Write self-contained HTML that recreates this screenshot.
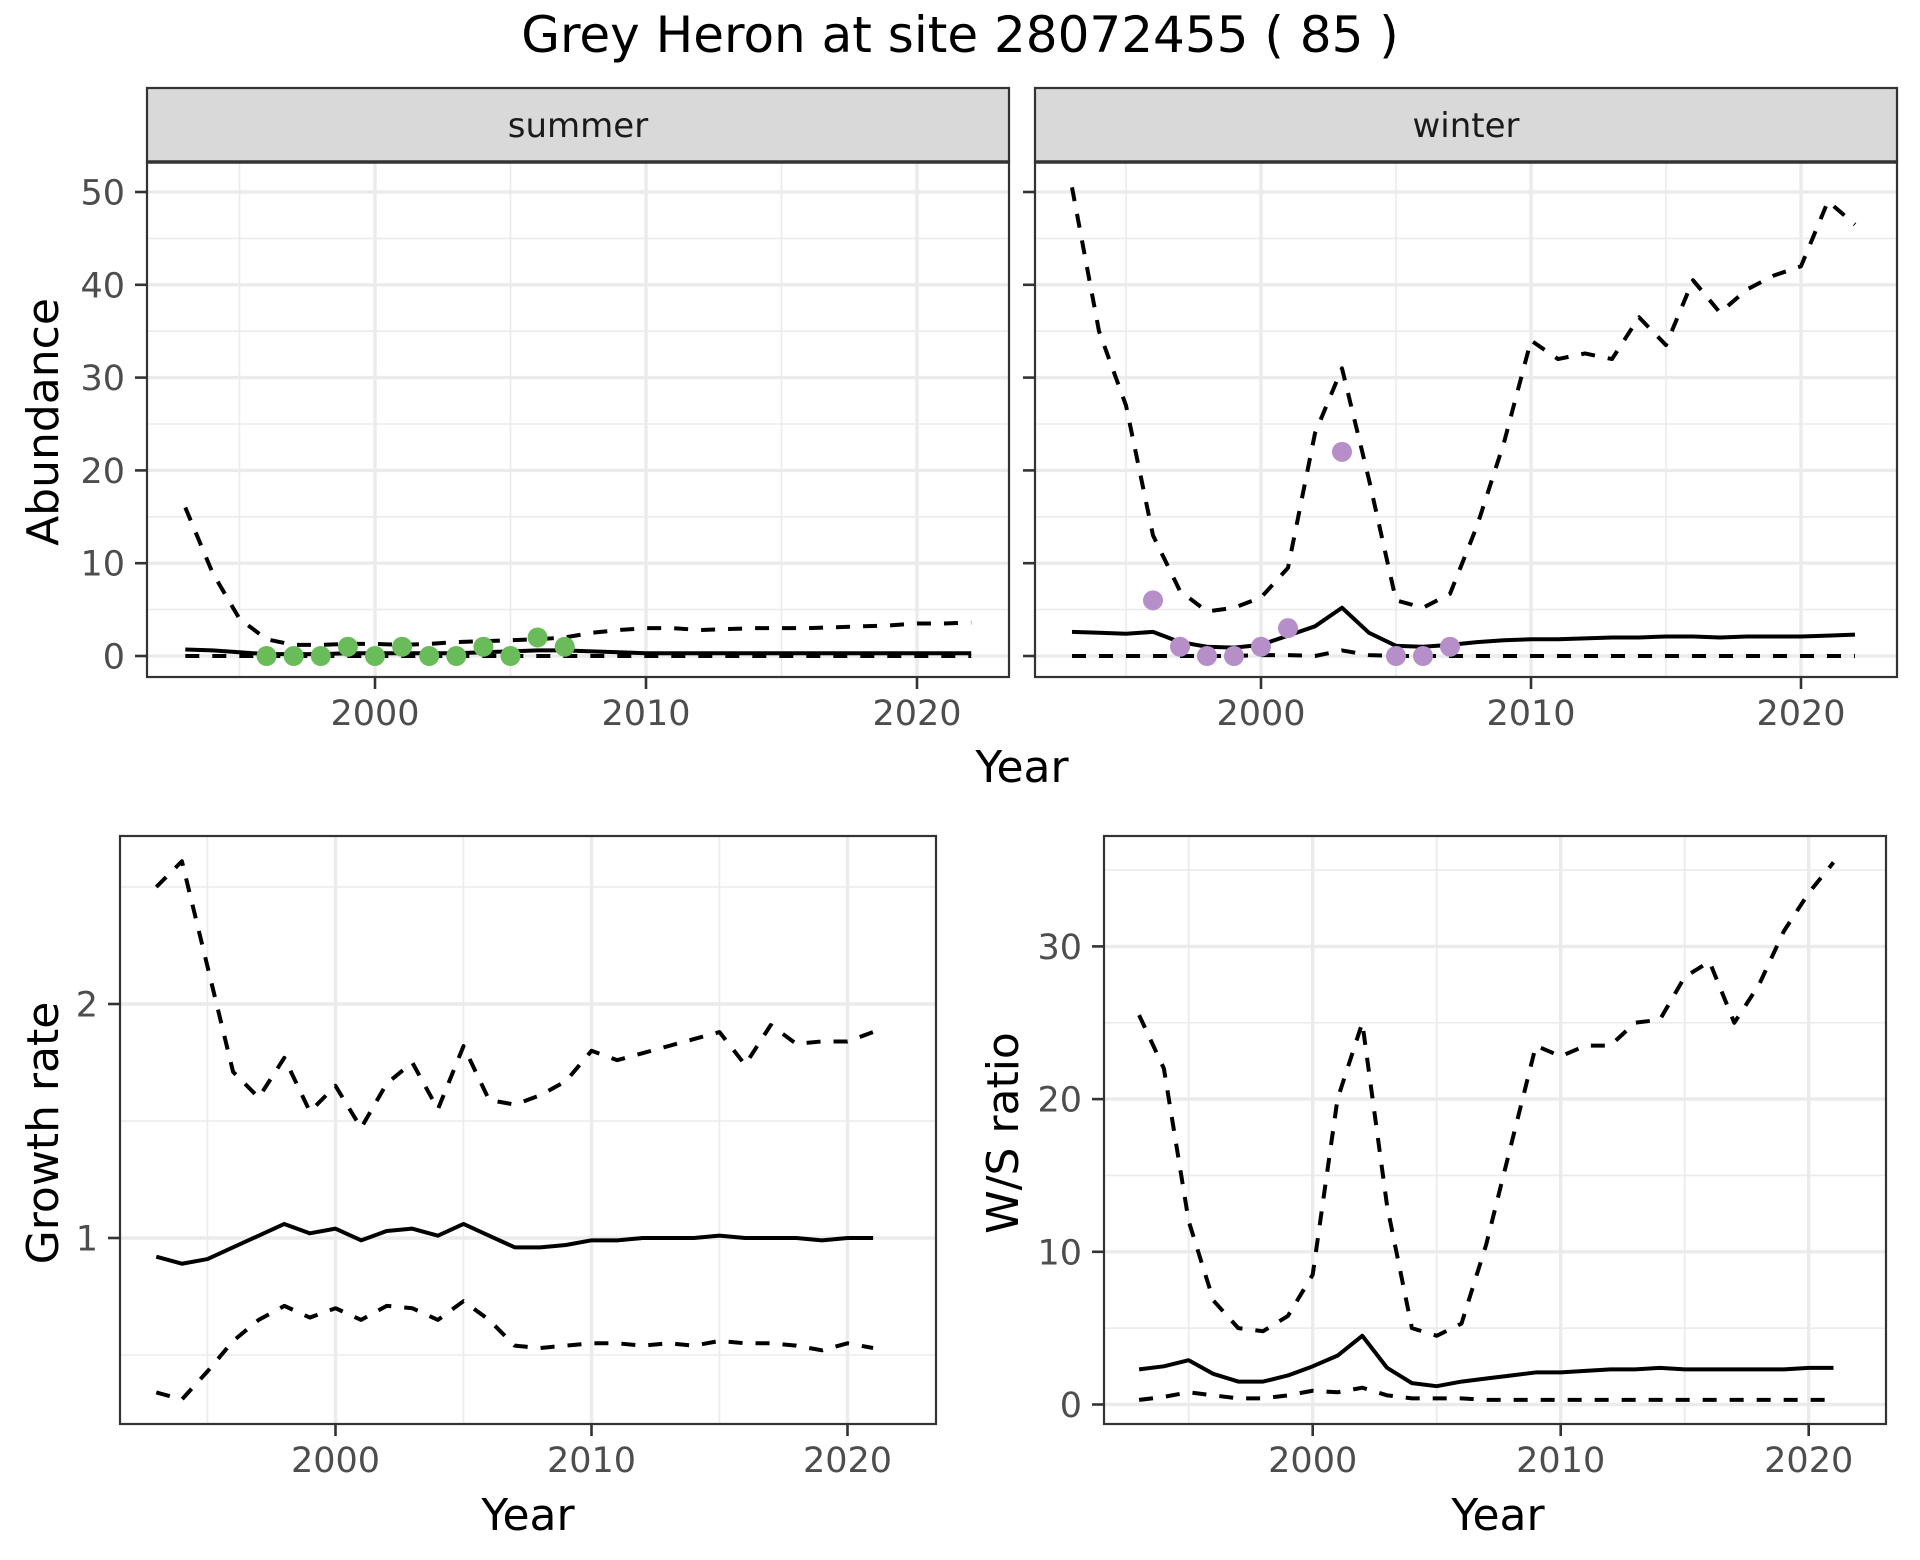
<!DOCTYPE html>
<html><head><meta charset="utf-8"><style>
body{margin:0;background:#fff}
svg{display:block;font-family:"DejaVu Sans","Liberation Sans",sans-serif}
</style></head><body>
<svg id="chart" width="1920" height="1560" viewBox="0 0 1920 1560" xmlns="http://www.w3.org/2000/svg">
<rect width="1920" height="1560" fill="#fff"/>
<text x="960" y="52" text-anchor="middle" font-size="50" fill="#000">Grey Heron at site 28072455 ( 85 )</text>
</svg>
<script>
const yearsAbund = [1993,1994,1995,1996,1997,1998,1999,2000,2001,2002,2003,2004,2005,2006,2007,2008,2009,2010,2011,2012,2013,2014,2015,2016,2017,2018,2019,2020,2021,2022];
const summerMean = [0.7,0.6,0.4,0.2,0.2,0.2,0.3,0.3,0.3,0.3,0.3,0.4,0.5,0.6,0.6,0.5,0.4,0.3,0.3,0.3,0.3,0.3,0.3,0.3,0.3,0.3,0.3,0.3,0.3,0.3];
const summerUpper = [16,9,4,1.8,1.2,1.2,1.3,1.3,1.2,1.3,1.5,1.6,1.7,1.8,2.0,2.5,2.8,3.0,3.0,2.8,2.9,3.0,3.0,3.0,3.1,3.2,3.3,3.5,3.5,3.6];
const summerLower = [0,0,0,0,0,0,0,0,0,0,0,0,0,0,0,0,0,0,0,0,0,0,0,0,0,0,0,0,0,0];
const summerObsYears = [1996,1997,1998,1999,2000,2001,2002,2003,2004,2005,2006,2007];
const summerObs = [0,0,0,1,0,1,0,0,1,0,2,1];
const winterMean = [2.6,2.5,2.4,2.6,1.5,1.0,0.9,1.2,2.2,3.2,5.2,2.5,1.1,1.0,1.2,1.5,1.7,1.8,1.8,1.9,2.0,2.0,2.1,2.1,2.0,2.1,2.1,2.1,2.2,2.3];
const winterUpper = [50.5,35,27,13,7,4.8,5.2,6.3,9.5,24,31,19,6,5.2,6.7,14,23,34,32,32.6,32,36.5,33.5,40.5,37,39.5,41,42,49,46.5];
const winterLower = [0,0,0,0,0,0,0,0.1,0.1,0,0.6,0.1,0,0,0,0,0,0,0,0,0,0,0,0,0,0,0,0,0,0];
const winterObsYears = [1996,1997,1998,1999,2000,2001,2003,2005,2006,2007];
const winterObs = [6,1,0,0,1,3,22,0,0,1];
const yearsRate = [1993,1994,1995,1996,1997,1998,1999,2000,2001,2002,2003,2004,2005,2006,2007,2008,2009,2010,2011,2012,2013,2014,2015,2016,2017,2018,2019,2020,2021];
const growthMean = [0.92,0.89,0.91,0.96,1.01,1.06,1.02,1.04,0.99,1.03,1.04,1.01,1.06,1.01,0.96,0.96,0.97,0.99,0.99,1.0,1.0,1.0,1.01,1.0,1.0,1.0,0.99,1.0,1.0];
const growthUpper = [2.50,2.61,2.16,1.71,1.60,1.77,1.54,1.65,1.47,1.66,1.75,1.55,1.82,1.59,1.57,1.61,1.67,1.80,1.76,1.79,1.82,1.85,1.88,1.74,1.91,1.83,1.84,1.84,1.88];
const growthLower = [0.34,0.31,0.43,0.56,0.65,0.71,0.66,0.70,0.65,0.71,0.70,0.65,0.73,0.65,0.54,0.53,0.54,0.55,0.55,0.54,0.55,0.54,0.56,0.55,0.55,0.54,0.52,0.55,0.53];
const ratioMean = [2.3,2.5,2.9,2.0,1.5,1.5,1.9,2.5,3.2,4.5,2.4,1.4,1.2,1.5,1.7,1.9,2.1,2.1,2.2,2.3,2.3,2.4,2.3,2.3,2.3,2.3,2.3,2.4,2.4];
const ratioUpper = [25.5,22,12,6.8,5.0,4.8,5.8,8.5,20,25,13,5.0,4.5,5.3,10.5,17,23.5,22.8,23.5,23.5,25,25.2,28,29,25,27.5,31,33.5,35.5];
const ratioLower = [0.3,0.5,0.8,0.6,0.4,0.4,0.6,0.9,0.8,1.1,0.6,0.4,0.4,0.4,0.3,0.3,0.3,0.3,0.3,0.3,0.3,0.3,0.3,0.3,0.3,0.3,0.3,0.3,0.3];
const xTicks = [2000,2010,2020];
const xMinor = [1995,2005,2015];
const abundTicks = [0,10,20,30,40,50];
const abundMinor = [5,15,25,35,45];
const growthTicks = [1,2];
const growthMinor = [0.5,1.5,2.5];
const ratioTicks = [0,10,20,30];
const ratioMinor = [5,15,25,35];

const NS='http://www.w3.org/2000/svg';
const svg=document.getElementById('chart');
function mk(tag,attrs,parent){const e=document.createElementNS(NS,tag);for(const k in attrs)e.setAttribute(k,attrs[k]);(parent||svg).appendChild(e);return e;}

function panel(o){
  const g=mk('g',{});
  
  
  const sx=v=>o.x0px+(v-o.x0v)*o.xk;
  const sy=v=>o.y0px-(v-o.y0v)*o.yk;
  mk('rect',{x:o.l,y:o.t,width:o.r-o.l,height:o.b-o.t,fill:'#fff'},g);
  o.yMinor.forEach(v=>{const y=sy(v);if(y>o.t&&y<o.b){const l=mk('line',{x1:o.l,x2:o.r,y1:y,y2:y,stroke:'#ebebeb','stroke-width':1.6},g);}});
  xMinor.forEach(v=>{const x=sx(v);const l=mk('line',{x1:x,x2:x,y1:o.t,y2:o.b,stroke:'#ebebeb','stroke-width':1.6},g);});
  o.yTicks.forEach(v=>{const y=sy(v);const l=mk('line',{x1:o.l,x2:o.r,y1:y,y2:y,stroke:'#ebebeb','stroke-width':3.4},g);
    const t=mk('line',{x1:o.l-12,x2:o.l,y1:y,y2:y,stroke:'#333','stroke-width':2.6},g);
    if(o.yLabels){const tx=mk('text',{x:o.l-22,y:y+12.5,'text-anchor':'end','font-size':35,fill:'#4d4d4d'},g);tx.textContent=v;}});
  xTicks.forEach(v=>{const x=sx(v);const l=mk('line',{x1:x,x2:x,y1:o.t,y2:o.b,stroke:'#ebebeb','stroke-width':3.4},g);
    const t=mk('line',{x1:x,x2:x,y1:o.b,y2:o.b+12,stroke:'#333','stroke-width':2.6},g);
    const tx=mk('text',{x:x,y:o.b+48,'text-anchor':'middle','font-size':35,fill:'#4d4d4d'},g);tx.textContent=v;});
  const line=(xs,ys,dash,nm)=>{const p=mk('polyline',{points:xs.map((x,i)=>sx(x)+','+sy(ys[i])).join(' '),fill:'none',stroke:'#000','stroke-width':4,'stroke-dasharray':dash?'14,13':'none','stroke-linejoin':'round'},g);};
  line(o.xs,o.lower,true,'lower-bound-line');
  line(o.xs,o.upper,true,'upper-bound-line');
  line(o.xs,o.mean,false,'mean-line');
  if(o.ptsX){o.ptsX.forEach((x,i)=>{const c=mk('circle',{cx:sx(x),cy:sy(o.ptsY[i]),r:10,fill:o.ptColor},g);});}
  mk('rect',{x:o.l,y:o.t,width:o.r-o.l,height:o.b-o.t,fill:'none',stroke:'#333','stroke-width':2.2},g);
  if(o.strip){const s=mk('rect',{x:o.l,y:o.t-74,width:o.r-o.l,height:74,fill:'#d9d9d9',stroke:'#333','stroke-width':2.2},g);
    mk('line',{x1:o.l,x2:o.r,y1:o.t,y2:o.t,stroke:'#333','stroke-width':3.5},g);
    const st=mk('text',{x:(o.l+o.r)/2,y:o.t-25,'text-anchor':'middle','font-size':34,fill:'#1a1a1a'},g);st.textContent=o.strip;}
}
function label(txt,x,y,rot,nm){const t=mk('text',{x:x,y:y,'text-anchor':'middle','font-size':44,fill:'#000',transform:rot?`rotate(-90 ${x} ${y})`:''});t.textContent=txt;}

panel({name:'summer-panel',strip:'summer',l:147,r:1009,t:162,b:677,x0v:2000,x0px:375,xk:27.1,y0v:0,y0px:656,yk:9.28,yTicks:abundTicks,yMinor:abundMinor,yLabels:true,xs:yearsAbund,mean:summerMean,upper:summerUpper,lower:summerLower,ptsX:summerObsYears,ptsY:summerObs,ptColor:'#6abc5a'});
panel({name:'winter-panel',strip:'winter',l:1035,r:1897,t:162,b:677,x0v:2000,x0px:1261,xk:27.0,y0v:0,y0px:656,yk:9.28,yTicks:abundTicks,yMinor:abundMinor,yLabels:false,xs:yearsAbund,mean:winterMean,upper:winterUpper,lower:winterLower,ptsX:winterObsYears,ptsY:winterObs,ptColor:'#b68fc8'});
panel({name:'growth-rate-panel',l:120,r:936,t:836,b:1424,x0v:2000,x0px:335.5,xk:25.6,y0v:1,y0px:1238,yk:234,yTicks:growthTicks,yMinor:growthMinor,yLabels:true,xs:yearsRate,mean:growthMean,upper:growthUpper,lower:growthLower});
panel({name:'ws-ratio-panel',l:1104,r:1886,t:836,b:1424,x0v:2000,x0px:1312.7,xk:24.8,y0v:0,y0px:1404.5,yk:15.27,yTicks:ratioTicks,yMinor:ratioMinor,yLabels:true,xs:yearsRate,mean:ratioMean,upper:ratioUpper,lower:ratioLower});

label('Abundance',58,422,true,'y-axis-title-abundance');
label('Year',1022,782,false,'x-axis-title-top');
label('Growth rate',58,1133,true,'y-axis-title-growth');
label('W/S ratio',1018,1133,true,'y-axis-title-ratio');
label('Year',528,1530,false,'x-axis-title-growth');
label('Year',1498,1530,false,'x-axis-title-ratio');
</script>
</body></html>
